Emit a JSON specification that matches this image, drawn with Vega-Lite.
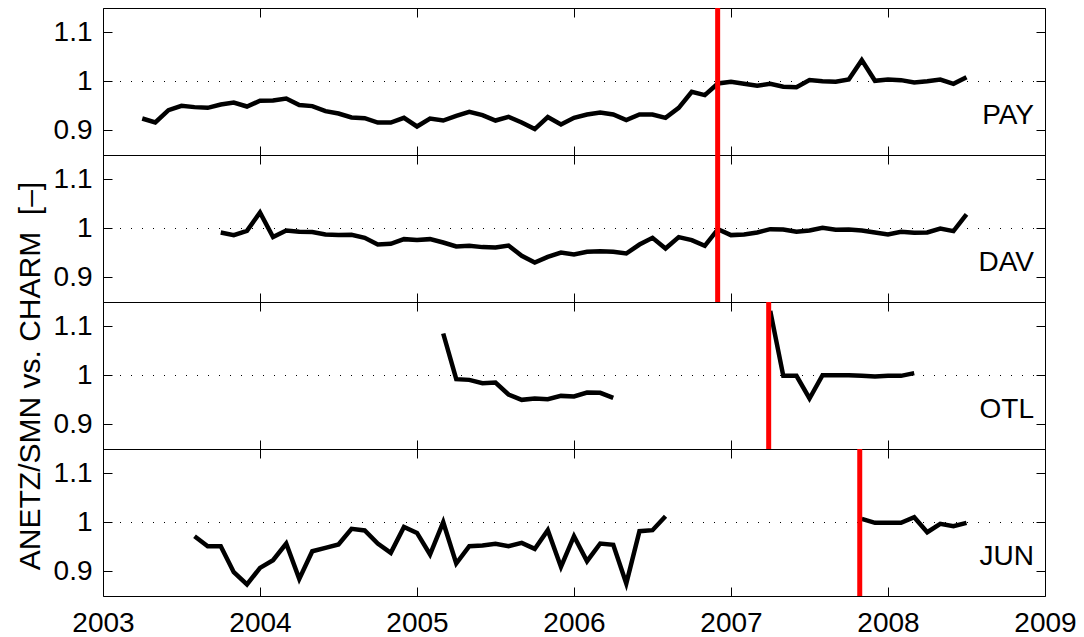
{
  "$schema": "https://vega.github.io/schema/vega-lite/v6.json",
  "padding": {"left": 14, "top": 5, "right": 5, "bottom": 5},
  "background": "white",
  "spacing": 0,
  "bounds": "flush",
  "datasets": {
    "PAY": [
      {"t": 2003.25, "r": 0.9245, "seg": 1}, {"t": 2003.333, "r": 0.9163, "seg": 1}, {"t": 2003.417, "r": 0.9416, "seg": 1}, {"t": 2003.5, "r": 0.9504, "seg": 1},
      {"t": 2003.583, "r": 0.9477, "seg": 1}, {"t": 2003.667, "r": 0.9463, "seg": 1}, {"t": 2003.75, "r": 0.9531, "seg": 1}, {"t": 2003.833, "r": 0.9571, "seg": 1},
      {"t": 2003.917, "r": 0.949, "seg": 1}, {"t": 2004.0, "r": 0.9606, "seg": 1}, {"t": 2004.083, "r": 0.9612, "seg": 1}, {"t": 2004.167, "r": 0.9653, "seg": 1},
      {"t": 2004.25, "r": 0.9518, "seg": 1}, {"t": 2004.333, "r": 0.9498, "seg": 1}, {"t": 2004.417, "r": 0.9396, "seg": 1}, {"t": 2004.5, "r": 0.9347, "seg": 1},
      {"t": 2004.583, "r": 0.9265, "seg": 1}, {"t": 2004.667, "r": 0.9252, "seg": 1}, {"t": 2004.75, "r": 0.9163, "seg": 1}, {"t": 2004.833, "r": 0.9163, "seg": 1},
      {"t": 2004.917, "r": 0.9259, "seg": 1}, {"t": 2005.0, "r": 0.9082, "seg": 1}, {"t": 2005.083, "r": 0.9245, "seg": 1}, {"t": 2005.167, "r": 0.9204, "seg": 1},
      {"t": 2005.25, "r": 0.93, "seg": 1}, {"t": 2005.333, "r": 0.9382, "seg": 1}, {"t": 2005.417, "r": 0.9314, "seg": 1}, {"t": 2005.5, "r": 0.9204, "seg": 1},
      {"t": 2005.583, "r": 0.928, "seg": 1}, {"t": 2005.667, "r": 0.9163, "seg": 1}, {"t": 2005.75, "r": 0.9028, "seg": 1}, {"t": 2005.833, "r": 0.9273, "seg": 1},
      {"t": 2005.917, "r": 0.9122, "seg": 1}, {"t": 2006.0, "r": 0.9259, "seg": 1}, {"t": 2006.083, "r": 0.9327, "seg": 1}, {"t": 2006.167, "r": 0.9367, "seg": 1},
      {"t": 2006.25, "r": 0.9327, "seg": 1}, {"t": 2006.333, "r": 0.9212, "seg": 1}, {"t": 2006.417, "r": 0.9327, "seg": 1}, {"t": 2006.5, "r": 0.9327, "seg": 1},
      {"t": 2006.583, "r": 0.9259, "seg": 1}, {"t": 2006.667, "r": 0.9463, "seg": 1}, {"t": 2006.75, "r": 0.979, "seg": 1}, {"t": 2006.833, "r": 0.9722, "seg": 1},
      {"t": 2006.917, "r": 0.9959, "seg": 1}, {"t": 2007.0, "r": 0.9994, "seg": 1}, {"t": 2007.083, "r": 0.9953, "seg": 1}, {"t": 2007.167, "r": 0.9912, "seg": 1},
      {"t": 2007.25, "r": 0.9953, "seg": 1}, {"t": 2007.333, "r": 0.9892, "seg": 1}, {"t": 2007.417, "r": 0.9885, "seg": 1}, {"t": 2007.5, "r": 1.0028, "seg": 1},
      {"t": 2007.583, "r": 1.0007, "seg": 1}, {"t": 2007.667, "r": 0.9994, "seg": 1}, {"t": 2007.75, "r": 1.0041, "seg": 1}, {"t": 2007.833, "r": 1.0436, "seg": 1},
      {"t": 2007.917, "r": 1.0014, "seg": 1}, {"t": 2008.0, "r": 1.0041, "seg": 1}, {"t": 2008.083, "r": 1.0028, "seg": 1}, {"t": 2008.167, "r": 0.998, "seg": 1},
      {"t": 2008.25, "r": 1.0007, "seg": 1}, {"t": 2008.333, "r": 1.0041, "seg": 1}, {"t": 2008.417, "r": 0.9953, "seg": 1}, {"t": 2008.5, "r": 1.0089, "seg": 1}
    ],
    "DAV": [
      {"t": 2003.75, "r": 0.9918, "seg": 1}, {"t": 2003.833, "r": 0.9865, "seg": 1}, {"t": 2003.917, "r": 0.9953, "seg": 1}, {"t": 2004.0, "r": 1.0327, "seg": 1},
      {"t": 2004.083, "r": 0.9824, "seg": 1}, {"t": 2004.167, "r": 0.9959, "seg": 1}, {"t": 2004.25, "r": 0.9933, "seg": 1}, {"t": 2004.333, "r": 0.9927, "seg": 1},
      {"t": 2004.417, "r": 0.9878, "seg": 1}, {"t": 2004.5, "r": 0.9865, "seg": 1}, {"t": 2004.583, "r": 0.9871, "seg": 1}, {"t": 2004.667, "r": 0.981, "seg": 1},
      {"t": 2004.75, "r": 0.9673, "seg": 1}, {"t": 2004.833, "r": 0.9688, "seg": 1}, {"t": 2004.917, "r": 0.9783, "seg": 1}, {"t": 2005.0, "r": 0.9763, "seg": 1},
      {"t": 2005.083, "r": 0.9783, "seg": 1}, {"t": 2005.167, "r": 0.9714, "seg": 1}, {"t": 2005.25, "r": 0.9633, "seg": 1}, {"t": 2005.333, "r": 0.9647, "seg": 1},
      {"t": 2005.417, "r": 0.962, "seg": 1}, {"t": 2005.5, "r": 0.9612, "seg": 1}, {"t": 2005.583, "r": 0.9653, "seg": 1}, {"t": 2005.667, "r": 0.9443, "seg": 1},
      {"t": 2005.75, "r": 0.9306, "seg": 1}, {"t": 2005.833, "r": 0.9422, "seg": 1}, {"t": 2005.917, "r": 0.951, "seg": 1}, {"t": 2006.0, "r": 0.9469, "seg": 1},
      {"t": 2006.083, "r": 0.9524, "seg": 1}, {"t": 2006.167, "r": 0.9538, "seg": 1}, {"t": 2006.25, "r": 0.9524, "seg": 1}, {"t": 2006.333, "r": 0.949, "seg": 1},
      {"t": 2006.417, "r": 0.9673, "seg": 1}, {"t": 2006.5, "r": 0.981, "seg": 1}, {"t": 2006.583, "r": 0.9592, "seg": 1}, {"t": 2006.667, "r": 0.9824, "seg": 1},
      {"t": 2006.75, "r": 0.9763, "seg": 1}, {"t": 2006.833, "r": 0.9647, "seg": 1}, {"t": 2006.917, "r": 0.9986, "seg": 1}, {"t": 2007.0, "r": 0.9865, "seg": 1},
      {"t": 2007.083, "r": 0.9878, "seg": 1}, {"t": 2007.167, "r": 0.9918, "seg": 1}, {"t": 2007.25, "r": 0.9986, "seg": 1}, {"t": 2007.333, "r": 0.998, "seg": 1},
      {"t": 2007.417, "r": 0.9933, "seg": 1}, {"t": 2007.5, "r": 0.9959, "seg": 1}, {"t": 2007.583, "r": 1.0014, "seg": 1}, {"t": 2007.667, "r": 0.9973, "seg": 1},
      {"t": 2007.75, "r": 0.998, "seg": 1}, {"t": 2007.833, "r": 0.9959, "seg": 1}, {"t": 2007.917, "r": 0.9918, "seg": 1}, {"t": 2008.0, "r": 0.9878, "seg": 1},
      {"t": 2008.083, "r": 0.9933, "seg": 1}, {"t": 2008.167, "r": 0.9912, "seg": 1}, {"t": 2008.25, "r": 0.9918, "seg": 1}, {"t": 2008.333, "r": 1.0, "seg": 1},
      {"t": 2008.417, "r": 0.9946, "seg": 1}, {"t": 2008.5, "r": 1.0286, "seg": 1}
    ],
    "OTL": [
      {"t": 2005.167, "r": 1.0857, "seg": 1}, {"t": 2005.25, "r": 0.9925, "seg": 1}, {"t": 2005.333, "r": 0.9911, "seg": 1}, {"t": 2005.417, "r": 0.9843, "seg": 1},
      {"t": 2005.5, "r": 0.9857, "seg": 1}, {"t": 2005.583, "r": 0.9612, "seg": 1}, {"t": 2005.667, "r": 0.9503, "seg": 1}, {"t": 2005.75, "r": 0.9531, "seg": 1},
      {"t": 2005.833, "r": 0.9517, "seg": 1}, {"t": 2005.917, "r": 0.9584, "seg": 1}, {"t": 2006.0, "r": 0.9571, "seg": 1}, {"t": 2006.083, "r": 0.9653, "seg": 1},
      {"t": 2006.167, "r": 0.9646, "seg": 1}, {"t": 2006.25, "r": 0.9544, "seg": 1},
      {"t": 2007.25, "r": 1.1319, "seg": 2}, {"t": 2007.333, "r": 0.9993, "seg": 2}, {"t": 2007.417, "r": 0.9993, "seg": 2}, {"t": 2007.5, "r": 0.9531, "seg": 2},
      {"t": 2007.583, "r": 1.0007, "seg": 2}, {"t": 2007.667, "r": 1.0007, "seg": 2}, {"t": 2007.75, "r": 1.0007, "seg": 2}, {"t": 2007.833, "r": 0.9993, "seg": 2},
      {"t": 2007.917, "r": 0.998, "seg": 2}, {"t": 2008.0, "r": 0.9993, "seg": 2}, {"t": 2008.083, "r": 0.9993, "seg": 2}, {"t": 2008.167, "r": 1.0048, "seg": 2}
    ],
    "JUN": [
      {"t": 2003.583, "r": 0.972, "seg": 1}, {"t": 2003.667, "r": 0.9516, "seg": 1}, {"t": 2003.75, "r": 0.9516, "seg": 1}, {"t": 2003.833, "r": 0.8986, "seg": 1},
      {"t": 2003.917, "r": 0.8735, "seg": 1}, {"t": 2004.0, "r": 0.9074, "seg": 1}, {"t": 2004.083, "r": 0.9231, "seg": 1}, {"t": 2004.167, "r": 0.9571, "seg": 1},
      {"t": 2004.25, "r": 0.8849, "seg": 1}, {"t": 2004.333, "r": 0.9414, "seg": 1}, {"t": 2004.417, "r": 0.9482, "seg": 1}, {"t": 2004.5, "r": 0.9551, "seg": 1},
      {"t": 2004.583, "r": 0.987, "seg": 1}, {"t": 2004.667, "r": 0.9837, "seg": 1}, {"t": 2004.75, "r": 0.9571, "seg": 1}, {"t": 2004.833, "r": 0.938, "seg": 1},
      {"t": 2004.917, "r": 0.991, "seg": 1}, {"t": 2005.0, "r": 0.9788, "seg": 1}, {"t": 2005.083, "r": 0.9347, "seg": 1}, {"t": 2005.167, "r": 1.0006, "seg": 1},
      {"t": 2005.25, "r": 0.9163, "seg": 1}, {"t": 2005.333, "r": 0.9516, "seg": 1}, {"t": 2005.417, "r": 0.953, "seg": 1}, {"t": 2005.5, "r": 0.9564, "seg": 1},
      {"t": 2005.583, "r": 0.9516, "seg": 1}, {"t": 2005.667, "r": 0.9584, "seg": 1}, {"t": 2005.75, "r": 0.9461, "seg": 1}, {"t": 2005.833, "r": 0.9843, "seg": 1},
      {"t": 2005.917, "r": 0.9094, "seg": 1}, {"t": 2006.0, "r": 0.972, "seg": 1}, {"t": 2006.083, "r": 0.921, "seg": 1}, {"t": 2006.167, "r": 0.9571, "seg": 1},
      {"t": 2006.25, "r": 0.9544, "seg": 1}, {"t": 2006.333, "r": 0.8755, "seg": 1}, {"t": 2006.417, "r": 0.9822, "seg": 1}, {"t": 2006.5, "r": 0.9843, "seg": 1},
      {"t": 2006.583, "r": 1.0129, "seg": 1},
      {"t": 2007.833, "r": 1.0074, "seg": 2}, {"t": 2007.917, "r": 0.9993, "seg": 2}, {"t": 2008.0, "r": 0.9993, "seg": 2}, {"t": 2008.083, "r": 0.9993, "seg": 2},
      {"t": 2008.167, "r": 1.0108, "seg": 2}, {"t": 2008.25, "r": 0.9802, "seg": 2}, {"t": 2008.333, "r": 0.9973, "seg": 2}, {"t": 2008.417, "r": 0.9925, "seg": 2},
      {"t": 2008.5, "r": 0.9993, "seg": 2}
    ]
  },
  "vconcat": [
    {
      "width": 942, "height": 147,
      "layer": [
        {"data": {"values": [{}]}, "mark": {"type": "rule", "strokeDash": [1, 10], "strokeWidth": 1, "color": "black"},
         "encoding": {"y": {"datum": 1, "type": "quantitative", "scale": {"domain": [0.85, 1.15], "nice": false, "zero": false}, "axis": {"orient": "right", "labels": false, "title": null, "values": [0.9, 1, 1.1]}}}},
        {"data": {"name": "PAY"}, "mark": {"type": "line", "color": "black", "strokeWidth": 4.5},
         "encoding": {
           "x": {"field": "t", "type": "quantitative", "scale": {"domain": [2003, 2009], "nice": false, "zero": false}, "axis": {"orient": "bottom", "labels": false, "title": null, "values": [2003, 2004, 2005, 2006, 2007, 2008, 2009]}},
           "y": {"field": "r", "type": "quantitative", "scale": {"domain": [0.85, 1.15], "nice": false, "zero": false}, "axis": {"orient": "left", "title": null, "values": [0.9, 1, 1.1], "format": ".1~f"}},
           "detail": {"field": "seg"}}},
        {"data": {"values": [{}]}, "mark": {"type": "rule", "color": "#ff0000", "strokeWidth": 5},
         "encoding": {"x": {"datum": 2006.915, "type": "quantitative", "scale": {"domain": [2003, 2009], "nice": false, "zero": false}, "axis": {"orient": "top", "labels": false, "title": null, "values": [2003, 2004, 2005, 2006, 2007, 2008, 2009]}}}},
        {"data": {"values": [{}]}, "mark": {"type": "text", "text": "PAY", "align": "right", "baseline": "alphabetic", "fontSize": 28, "font": "Liberation Sans", "color": "black"},
         "encoding": {"x": {"datum": 2008.93, "type": "quantitative", "axis": null, "scale": {"domain": [2003, 2009], "nice": false, "zero": false}}, "y": {"datum": 0.914, "type": "quantitative", "axis": null, "scale": {"domain": [0.85, 1.15], "nice": false, "zero": false}}}}
      ],
      "resolve": {"axis": {"x": "independent", "y": "independent"}}
    },
    {
      "width": 942, "height": 147,
      "layer": [
        {"data": {"values": [{}]}, "mark": {"type": "rule", "strokeDash": [1, 10], "strokeWidth": 1, "color": "black"},
         "encoding": {"y": {"datum": 1, "type": "quantitative", "scale": {"domain": [0.85, 1.15], "nice": false, "zero": false}, "axis": {"orient": "right", "labels": false, "title": null, "values": [0.9, 1, 1.1]}}}},
        {"data": {"name": "DAV"}, "mark": {"type": "line", "color": "black", "strokeWidth": 4.5},
         "encoding": {
           "x": {"field": "t", "type": "quantitative", "scale": {"domain": [2003, 2009], "nice": false, "zero": false}, "axis": {"orient": "bottom", "labels": false, "title": null, "values": [2003, 2004, 2005, 2006, 2007, 2008, 2009]}},
           "y": {"field": "r", "type": "quantitative", "scale": {"domain": [0.85, 1.15], "nice": false, "zero": false}, "axis": {"orient": "left", "title": null, "values": [0.9, 1, 1.1], "format": ".1~f"}},
           "detail": {"field": "seg"}}},
        {"data": {"values": [{}]}, "mark": {"type": "rule", "color": "#ff0000", "strokeWidth": 5},
         "encoding": {"x": {"datum": 2006.915, "type": "quantitative", "scale": {"domain": [2003, 2009], "nice": false, "zero": false}, "axis": {"orient": "top", "labels": false, "title": null, "values": [2003, 2004, 2005, 2006, 2007, 2008, 2009]}}}},
        {"data": {"values": [{}]}, "mark": {"type": "text", "text": "DAV", "align": "right", "baseline": "alphabetic", "fontSize": 28, "font": "Liberation Sans", "color": "black"},
         "encoding": {"x": {"datum": 2008.93, "type": "quantitative", "axis": null, "scale": {"domain": [2003, 2009], "nice": false, "zero": false}}, "y": {"datum": 0.914, "type": "quantitative", "axis": null, "scale": {"domain": [0.85, 1.15], "nice": false, "zero": false}}}}
      ],
      "resolve": {"axis": {"x": "independent", "y": "independent"}}
    },
    {
      "width": 942, "height": 147,
      "layer": [
        {"data": {"values": [{}]}, "mark": {"type": "rule", "strokeDash": [1, 10], "strokeWidth": 1, "color": "black"},
         "encoding": {"y": {"datum": 1, "type": "quantitative", "scale": {"domain": [0.85, 1.15], "nice": false, "zero": false}, "axis": {"orient": "right", "labels": false, "title": null, "values": [0.9, 1, 1.1]}}}},
        {"data": {"name": "OTL"}, "mark": {"type": "line", "color": "black", "strokeWidth": 4.5},
         "encoding": {
           "x": {"field": "t", "type": "quantitative", "scale": {"domain": [2003, 2009], "nice": false, "zero": false}, "axis": {"orient": "bottom", "labels": false, "title": null, "values": [2003, 2004, 2005, 2006, 2007, 2008, 2009]}},
           "y": {"field": "r", "type": "quantitative", "scale": {"domain": [0.85, 1.15], "nice": false, "zero": false}, "axis": {"orient": "left", "title": "ANETZ/SMN vs. CHARM\u00a0\u00a0[–]", "titleFontSize": 30, "titlePadding": 8, "values": [0.9, 1, 1.1], "format": ".1~f"}},
           "detail": {"field": "seg"}}},
        {"data": {"values": [{}]}, "mark": {"type": "rule", "color": "#ff0000", "strokeWidth": 5},
         "encoding": {"x": {"datum": 2007.24, "type": "quantitative", "scale": {"domain": [2003, 2009], "nice": false, "zero": false}, "axis": {"orient": "top", "labels": false, "title": null, "values": [2003, 2004, 2005, 2006, 2007, 2008, 2009]}}}},
        {"data": {"values": [{}]}, "mark": {"type": "text", "text": "OTL", "align": "right", "baseline": "alphabetic", "fontSize": 28, "font": "Liberation Sans", "color": "black"},
         "encoding": {"x": {"datum": 2008.93, "type": "quantitative", "axis": null, "scale": {"domain": [2003, 2009], "nice": false, "zero": false}}, "y": {"datum": 0.914, "type": "quantitative", "axis": null, "scale": {"domain": [0.85, 1.15], "nice": false, "zero": false}}}}
      ],
      "resolve": {"axis": {"x": "independent", "y": "independent"}}
    },
    {
      "width": 942, "height": 147,
      "layer": [
        {"data": {"values": [{}]}, "mark": {"type": "rule", "strokeDash": [1, 10], "strokeWidth": 1, "color": "black"},
         "encoding": {"y": {"datum": 1, "type": "quantitative", "scale": {"domain": [0.85, 1.15], "nice": false, "zero": false}, "axis": {"orient": "right", "labels": false, "title": null, "values": [0.9, 1, 1.1]}}}},
        {"data": {"name": "JUN"}, "mark": {"type": "line", "color": "black", "strokeWidth": 4.5},
         "encoding": {
           "x": {"field": "t", "type": "quantitative", "scale": {"domain": [2003, 2009], "nice": false, "zero": false}, "axis": {"orient": "bottom", "labels": true, "labelFlush": false, "labelPadding": 22, "format": "d", "title": null, "values": [2003, 2004, 2005, 2006, 2007, 2008, 2009]}},
           "y": {"field": "r", "type": "quantitative", "scale": {"domain": [0.85, 1.15], "nice": false, "zero": false}, "axis": {"orient": "left", "title": null, "values": [0.9, 1, 1.1], "format": ".1~f"}},
           "detail": {"field": "seg"}}},
        {"data": {"values": [{}]}, "mark": {"type": "rule", "color": "#ff0000", "strokeWidth": 5},
         "encoding": {"x": {"datum": 2007.82, "type": "quantitative", "scale": {"domain": [2003, 2009], "nice": false, "zero": false}, "axis": {"orient": "top", "labels": false, "title": null, "values": [2003, 2004, 2005, 2006, 2007, 2008, 2009]}}}},
        {"data": {"values": [{}]}, "mark": {"type": "text", "text": "JUN", "align": "right", "baseline": "alphabetic", "fontSize": 28, "font": "Liberation Sans", "color": "black"},
         "encoding": {"x": {"datum": 2008.93, "type": "quantitative", "axis": null, "scale": {"domain": [2003, 2009], "nice": false, "zero": false}}, "y": {"datum": 0.914, "type": "quantitative", "axis": null, "scale": {"domain": [0.85, 1.15], "nice": false, "zero": false}}}}
      ],
      "resolve": {"axis": {"x": "independent", "y": "independent"}}
    }
  ],
  "config": {
    "font": "Liberation Sans",
    "view": {"stroke": "black", "strokeWidth": 1},
    "concat": {"spacing": 0},
    "axis": {
      "domain": false, "grid": false,
      "ticks": true, "tickColor": "black", "tickWidth": 1, "tickSize": -9,
      "labelPadding": 20, "labelFontSize": 28, "labelColor": "black", "labelFont": "Liberation Sans",
      "titleFontSize": 28, "titleColor": "black", "titleFontWeight": "normal", "titleFont": "Liberation Sans"
    }
  }
}
